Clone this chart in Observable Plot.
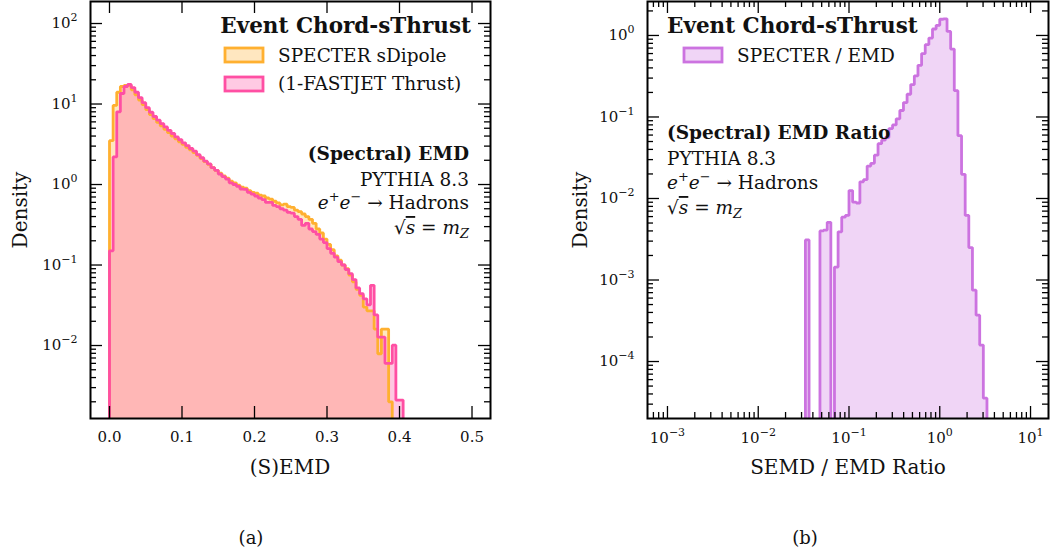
<!DOCTYPE html>
<html>
<head>
<meta charset="utf-8">
<script src="https://cdn.jsdelivr.net/npm/d3@7"></script>
<script src="https://cdn.jsdelivr.net/npm/@observablehq/plot@0.6"></script>
<style>
  html, body { margin: 0; padding: 0; background: #fff; }
  #fig { position: relative; width: 1050px; height: 554px; overflow: hidden; background: #fff; }
  .panel { position: absolute; top: 0; }
  #notes { position: absolute; left: 0; top: 0; pointer-events: none; }
</style>
</head>
<body>
<div id="fig">
  <div class="panel" id="panelA" style="left:0px"></div>
  <div class="panel" id="panelB" style="left:525px"></div>
</div>
<script>
// ---------------- data ----------------
// (a) Event Chord-sThrust (S)EMD densities, bins of width 0.005 starting at 0
const emdBinStart = 0;
const emdBinWidth = 0.005;
const specterDensity = [
  3.5, 9.6, 14, 16.5, 17, 17, 15, 13, 11.2, 9.8,
  8.5, 7.4, 6.6, 5.9, 5.35, 4.85, 4.4, 4.0, 3.7, 3.4,
  3.15, 2.9, 2.7, 2.5, 2.3, 2.1, 1.92, 1.78, 1.62, 1.5,
  1.38, 1.28, 1.2, 1.1, 1.05, 0.98, 0.93, 0.9, 0.84, 0.8,
  0.78, 0.74, 0.72, 0.68, 0.66, 0.62, 0.59, 0.56, 0.57, 0.53,
  0.52, 0.48, 0.46, 0.43, 0.40, 0.37, 0.33, 0.28, 0.25, 0.21,
  0.18, 0.155, 0.13, 0.115, 0.1, 0.09, 0.075, 0.062, 0.05, 0.042,
  0.03, 0.027, 0.027, 0.016, 0.0079, 0.016, 0.016, 0.002
];
const fastjetDensity = [
  0.15, 2.2, 8.0, 13.5, 16.5, 17.5, 16.0, 14.0, 12.0, 10.4,
  9.0, 7.9, 7.0, 6.3, 5.7, 5.2, 4.7, 4.3, 3.9, 3.6,
  3.3, 3.05, 2.8, 2.6, 2.35, 2.15, 1.95, 1.8, 1.62, 1.5,
  1.35, 1.25, 1.17, 1.05, 1.0, 0.95, 0.88, 0.87, 0.80, 0.76,
  0.72, 0.68, 0.65, 0.60, 0.60, 0.55, 0.53, 0.50, 0.48, 0.45,
  0.44, 0.40, 0.37, 0.31, 0.33, 0.28, 0.26, 0.24, 0.21, 0.19,
  0.16, 0.14, 0.125, 0.11, 0.1, 0.088, 0.078, 0.066, 0.052, 0.044,
  0.038, 0.032, 0.056, 0.024, 0.0127, 0.0127, 0.006, 0.006, 0.0101, 0.0021,
  0.0021
];

// (b) SEMD / EMD ratio density, log-spaced bins (log10 width 0.04) starting at 10^-1.48
const ratioLogStart = -1.48;
const ratioLogWidth = 0.04;
const ratioDensity = [
  0.0031, 0, 0, 0, 0.0040, 0.0041, 0.0051, 0, 0.00144, 0.0039,
  0.0059, 0.0062, 0.0125, 0.009, 0.0088, 0.016, 0.017, 0.025, 0.027, 0.034,
  0.047, 0.052, 0.056, 0.072, 0.08, 0.095, 0.12, 0.15, 0.19, 0.25,
  0.32, 0.43, 0.6, 0.77, 0.93, 1.2, 1.33, 1.58, 1.6, 1.12,
  0.68, 0.21, 0.059, 0.0198, 0.0062, 0.0025, 0.00075, 0.00037, 0.000159, 0.0000355
];

// axis ticks
const emdTicks = [0, 0.1, 0.2, 0.3, 0.4, 0.5];
const densityDecadesA = [1e-2, 1e-1, 1, 10, 100];
const ratioDecades = [1e-3, 1e-2, 1e-1, 1, 10];
const densityDecadesB = [1e-4, 1e-3, 1e-2, 1e-1, 1];

// ---------------- style ----------------
const FONT = "DejaVu Serif";
const ORANGE = "#ffb030";
const PINK = "#ff4fa3";
const PURPLE = "#cc73e0";
const FLOOR = 1e-12;          // stand-in for empty bins on the log axis
const MAJOR = 12, MINOR = 6;  // inward tick lengths

// ---------------- helpers ----------------
function stepPoints(edges, values) {
  const n = values.length;
  const pts = [{x: edges[0], y: FLOOR}];
  for (let i = 0; i < n; i++) pts.push({x: edges[i], y: values[i] > 0 ? values[i] : FLOOR});
  pts.push({x: edges[n], y: values[n - 1] > 0 ? values[n - 1] : FLOOR});
  pts.push({x: edges[n], y: FLOOR});
  return pts;
}
function minorLog(lo, hi) {
  const out = [];
  for (let e = Math.floor(Math.log10(lo)) - 1; e <= Math.ceil(Math.log10(hi)); e++)
    for (let m = 2; m <= 9; m++) {
      const v = m * Math.pow(10, e);
      if (v > lo && v < hi) out.push(v);
    }
  return out;
}
const pow10Label = d => "10^" + Math.round(Math.log10(d));

function histMarks(pts, color, opacity) {
  return {
    fill: Plot.areaY(pts, {x: "x", y1: FLOOR, y2: "y", curve: "step-after", fill: color, fillOpacity: opacity, clip: true}),
    line: Plot.line(pts, {x: "x", y: "y", curve: "step-after", stroke: color, strokeWidth: 2.8,
                          strokeLinejoin: "miter", strokeLinecap: "butt", clip: true})
  };
}

// inward tick marks on all four sides
function frameTicks(pw, ph, xMajor, xMinor, yMajor, yMinor) {
  const s = {stroke: "#000", strokeWidth: 1.3};
  const out = [];
  const pushX = (vals, len) => {
    if (!vals.length) return;
    out.push(Plot.tickX(vals, {x: d => d, insetTop: ph - len, ...s}));
    out.push(Plot.tickX(vals, {x: d => d, insetBottom: ph - len, ...s}));
  };
  const pushY = (vals, len) => {
    if (!vals.length) return;
    out.push(Plot.tickY(vals, {y: d => d, insetRight: pw - len, ...s}));
    out.push(Plot.tickY(vals, {y: d => d, insetLeft: pw - len, ...s}));
  };
  pushX(xMajor, MAJOR); pushX(xMinor, MINOR);
  pushY(yMajor, MAJOR); pushY(yMinor, MINOR);
  return out;
}

// turn "10^-2" tick texts into 10 with a raised exponent
function superscriptTicks(svg) {
  const NS = "http://www.w3.org/2000/svg";
  svg.querySelectorAll("text").forEach(t => {
    const m = /^10\^(-?\d+)$/.exec(t.textContent.trim());
    if (!m) return;
    t.textContent = "";
    const a = document.createElementNS(NS, "tspan");
    a.textContent = "10";
    const b = document.createElementNS(NS, "tspan");
    b.textContent = m[1].replace("-", "\u2212");
    b.setAttribute("dy", "-7");
    b.setAttribute("font-size", "11");
    t.append(a, b);
  });
}

const W = 525, H = 470;
const baseStyle = {fontFamily: FONT, fontSize: "15px", color: "#111", background: "transparent", overflow: "visible"};

// ---------------- panel (a) ----------------
{
  const mL = 90, mR = 35, mT = 1, mB = 52;
  const pw = W - mL - mR, ph = H - mT - mB;
  const yDom = [1.24e-3, 187.7];
  const edgesO = d3.range(specterDensity.length + 1).map(i => emdBinStart + i * emdBinWidth);
  const edgesP = d3.range(fastjetDensity.length + 1).map(i => emdBinStart + i * emdBinWidth);
  const o = histMarks(stepPoints(edgesO, specterDensity), ORANGE, 0.3);
  const p = histMarks(stepPoints(edgesP, fastjetDensity), PINK, 0.31);
  const chart = Plot.plot({
    width: W, height: H,
    marginLeft: mL, marginRight: mR, marginTop: mT, marginBottom: mB,
    style: baseStyle,
    x: {domain: [-0.0262, 0.5255]},
    y: {type: "log", domain: yDom},
    marks: [
      o.fill, p.fill, o.line, p.line,
      ...frameTicks(pw, ph, emdTicks, [], densityDecadesA, minorLog(yDom[0], yDom[1])),
      Plot.frame({stroke: "#000", strokeWidth: 2}),
      Plot.axisX({ticks: emdTicks, tickSize: 0, tickPadding: 13, tickFormat: d3.format(".1f"), fontSize: 15, label: null}),
      Plot.axisY({ticks: densityDecadesA, tickSize: 0, tickPadding: 13, tickFormat: pow10Label, fontSize: 15, label: null})
    ]
  });
  superscriptTicks(chart);
  document.getElementById("panelA").append(chart);
}

// ---------------- panel (b) ----------------
{
  const mL = 122, mR = 2, mT = 1, mB = 52;
  const pw = W - mL - mR, ph = H - mT - mB;
  const xDom = [Math.pow(10, -3.22), Math.pow(10, 1.198)];
  const yDom = [2.0e-5, 2.61];
  const edges = d3.range(ratioDensity.length + 1).map(i => Math.pow(10, ratioLogStart + i * ratioLogWidth));
  const r = histMarks(stepPoints(edges, ratioDensity), PURPLE, 0.3);
  const chart = Plot.plot({
    width: W, height: H,
    marginLeft: mL, marginRight: mR, marginTop: mT, marginBottom: mB,
    style: baseStyle,
    x: {type: "log", domain: xDom},
    y: {type: "log", domain: yDom},
    marks: [
      r.fill, r.line,
      ...frameTicks(pw, ph, ratioDecades, minorLog(xDom[0], xDom[1]), densityDecadesB, minorLog(yDom[0], yDom[1])),
      Plot.frame({stroke: "#000", strokeWidth: 2}),
      Plot.axisX({ticks: ratioDecades, tickSize: 0, tickPadding: 14, tickFormat: pow10Label, fontSize: 15, label: null}),
      Plot.axisY({ticks: densityDecadesB, tickSize: 0, tickPadding: 13, tickFormat: pow10Label, fontSize: 15, label: null})
    ]
  });
  superscriptTicks(chart);
  document.getElementById("panelB").append(chart);
}

// ---------------- text, legends, axis titles ----------------
const notes = d3.select("#fig").append("svg")
  .attr("id", "notes").attr("width", 1050).attr("height", 554)
  .style("font-family", FONT);

function note(x, y, parts, {anchor = "start", size = 18.5, weight = 400, rotate = null} = {}) {
  const t = notes.append("text").attr("x", x).attr("y", y)
    .attr("text-anchor", anchor).attr("font-size", size).attr("font-weight", weight).attr("fill", "#111");
  if (rotate != null) t.attr("transform", `rotate(${rotate},${x},${y})`);
  let shift = 0;
  for (const part of parts) {
    const [s, f = ""] = typeof part === "string" ? [part] : part;
    const flags = f.split(" ");
    let target = 0, fs = size;
    if (flags.includes("sup")) { target = -size * 0.42; fs = size * 0.7; }
    if (flags.includes("sub")) { target = size * 0.22; fs = size * 0.7; }
    const ts = t.append("tspan").text(s).attr("font-size", fs);
    if (target - shift !== 0) ts.attr("dy", target - shift);
    shift = target;
    if (flags.includes("it")) ts.attr("font-style", "italic");
    if (flags.includes("over")) ts.style("text-decoration", "overline");
  }
  return t;
}
function swatch(x, y, color) {
  notes.append("rect").attr("x", x).attr("y", y).attr("width", 38).attr("height", 14)
    .attr("fill", color).attr("fill-opacity", 0.3).attr("stroke", color).attr("stroke-width", 2.8);
}
const eeHadrons = [["e", "it"], ["+", "sup"], ["e", "it"], ["\u2212", "sup"], [" \u2192 Hadrons"]];
const sqrtS = [["\u221A"], ["s", "it over"], [" = "], ["m", "it"], ["Z", "sub it"]];

// panel (a)
note(471, 33, ["Event Chord-sThrust"], {anchor: "end", size: 21.5, weight: 700});
swatch(225, 48, ORANGE);
note(278, 62, ["SPECTER sDipole"]);
swatch(225, 77, PINK);
note(278, 90, ["(1-FASTJET Thrust)"]);
note(469, 160, ["(Spectral) EMD"], {anchor: "end", weight: 700});
note(469, 186, ["PYTHIA 8.3"], {anchor: "end"});
note(469, 209, eeHadrons, {anchor: "end"});
note(469, 234, sqrtS, {anchor: "end"});
note(290, 474, ["(S)EMD"], {anchor: "middle", size: 20});
note(27, 210, ["Density"], {anchor: "middle", size: 20, rotate: -90});
note(251, 544, ["(a)"], {anchor: "middle", size: 18});

// panel (b)
note(667, 33, ["Event Chord-sThrust"], {size: 21.5, weight: 700});
swatch(684, 48, PURPLE);
note(737, 62, ["SPECTER / EMD"]);
note(667, 139, ["(Spectral) EMD Ratio"], {weight: 700});
note(667, 165, ["PYTHIA 8.3"]);
note(667, 189, eeHadrons);
note(667, 214, sqrtS);
note(848, 474, ["SEMD / EMD Ratio"], {anchor: "middle", size: 20});
note(587, 210, ["Density"], {anchor: "middle", size: 20, rotate: -90});
note(805, 544, ["(b)"], {anchor: "middle", size: 18});
</script>
</body>
</html>
